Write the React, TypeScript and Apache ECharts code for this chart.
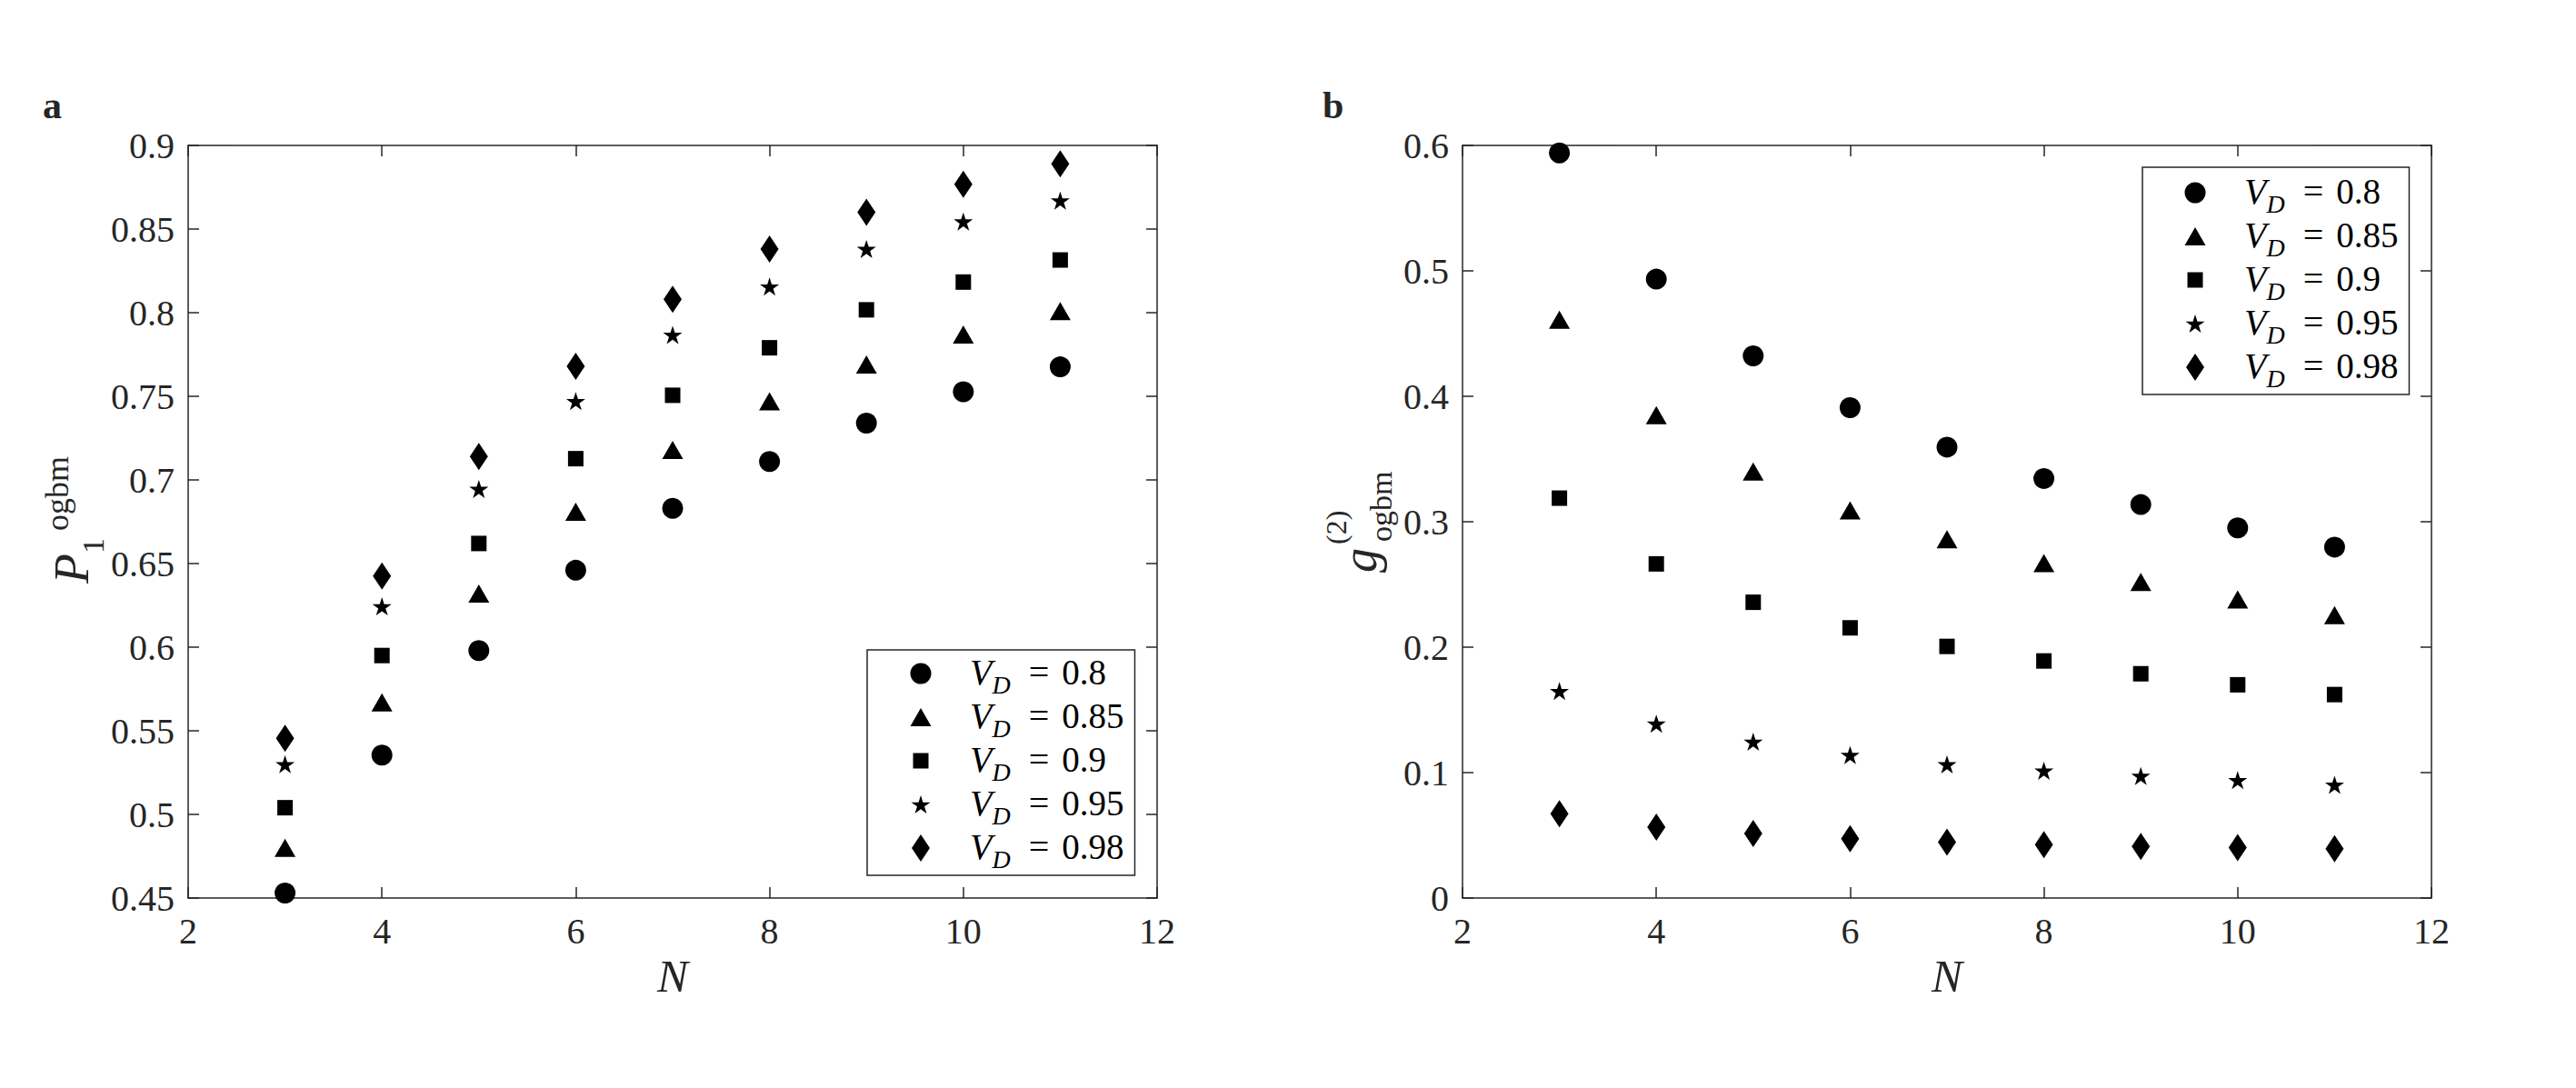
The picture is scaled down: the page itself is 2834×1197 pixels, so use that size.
import React, { useEffect, useRef } from 'react';
import * as echarts from 'echarts';

// ---------- data ----------
const nValues = [3, 4, 5, 6, 7, 8, 9, 10, 11];
const vdLabels = ['0.8', '0.85', '0.9', '0.95', '0.98'];
const seriesNames = vdLabels.map((v) => 'VD=' + v);

// panel a: P_1^ogbm
const pVd080 = [0.453, 0.5355, 0.598, 0.646, 0.683, 0.711, 0.734, 0.7527, 0.7676];
const pVd085 = [0.48, 0.567, 0.632, 0.681, 0.718, 0.747, 0.769, 0.787, 0.801];
const pVd090 = [0.504, 0.595, 0.662, 0.7127, 0.7506, 0.779, 0.8017, 0.8183, 0.8315];
const pVd095 = [0.53, 0.6244, 0.6946, 0.7471, 0.7867, 0.8156, 0.8381, 0.8545, 0.867];
const pVd098 = [0.5455, 0.6425, 0.714, 0.768, 0.808, 0.838, 0.86, 0.8767, 0.889];

// panel b: g^(2)_ogbm
const gVd080 = [0.594, 0.4934, 0.4323, 0.391, 0.3595, 0.3345, 0.3137, 0.2951, 0.2798];
const gVd085 = [0.461, 0.385, 0.34, 0.309, 0.286, 0.267, 0.252, 0.238, 0.2256];
const gVd090 = [0.3188, 0.2664, 0.2358, 0.2154, 0.2006, 0.189, 0.1788, 0.17, 0.1622];
const gVd095 = [0.165, 0.139, 0.1246, 0.114, 0.1066, 0.1015, 0.0973, 0.094, 0.0903];
const gVd098 = [0.0672, 0.0565, 0.0514, 0.0473, 0.0445, 0.0426, 0.0412, 0.0403, 0.0394];

const xTicks = [2, 4, 6, 8, 10, 12];
const yTicksA = [0.45, 0.5, 0.55, 0.6, 0.65, 0.7, 0.75, 0.8, 0.85, 0.9];
const yTicksB = [0, 0.1, 0.2, 0.3, 0.4, 0.5, 0.6];

const panelA = [pVd080, pVd085, pVd090, pVd095, pVd098];
const panelB = [gVd080, gVd085, gVd090, gVd095, gVd098];

// ---------- styling ----------
const FONT = 'Liberation Serif';
const AX = '#262626';
const STAR =
  'path://M50 0L61.23 34.55L97.55 34.55L68.17 55.9L79.39 90.45L50 69.1L20.61 90.45L31.83 55.9L2.45 34.55L38.77 34.55Z';
const markerSymbols = ['circle', 'triangle', 'rect', STAR, 'diamond'];
const markerSizes: any[] = [23, [23, 20], 17, [21, 20], [20, 30]];

// legend icons in a 98x30 frame, marker centred at (49,15)
const FRAME = 'M0 0Z M98 30Z ';
function starIcon(cx: number, cy: number, w: number, h: number) {
  const pts = [
    [50, 0], [61.23, 34.55], [97.55, 34.55], [68.17, 55.9], [79.39, 90.45],
    [50, 69.1], [20.61, 90.45], [31.83, 55.9], [2.45, 34.55], [38.77, 34.55],
  ];
  const sx = w / 95.1, sy = h / 90.45;
  return pts
    .map((p, i) => (i === 0 ? 'M' : 'L') + (cx + (p[0] - 50) * sx).toFixed(2) + ' ' + (cy - h / 2 + p[1] * sy).toFixed(2))
    .join(' ') + ' Z';
}
const legendIcons = [
  'path://' + FRAME + 'M37.5 15 A11.5 11.5 0 1 0 60.5 15 A11.5 11.5 0 1 0 37.5 15 Z',
  'path://' + FRAME + 'M49 5 L60.5 25 L37.5 25 Z',
  'path://' + FRAME + 'M40.5 6.5 L57.5 6.5 L57.5 23.5 L40.5 23.5 Z',
  'path://' + FRAME + starIcon(49, 15, 21, 20),
  'path://' + FRAME + 'M49 0 L59 15 L49 30 L39 15 Z',
];

const tickFmt = (v: number) => String(+v.toFixed(2));

function xAxes(grid: number) {
  const common = {
    type: 'value',
    gridIndex: grid,
    min: xTicks[0],
    max: xTicks[xTicks.length - 1],
    interval: 2,
    axisLine: { show: true, onZero: false, lineStyle: { color: AX, width: 1.5 } },
    axisTick: { show: true, inside: true, length: 12, lineStyle: { color: AX, width: 1.5 } },
    splitLine: { show: false },
  };
  return [
    {
      ...common,
      position: 'bottom',
      name: 'N',
      nameLocation: 'middle',
      nameGap: 60,
      nameTextStyle: { fontFamily: FONT, fontSize: 51, fontStyle: 'italic', color: AX },
      axisLabel: { color: AX, fontFamily: FONT, fontSize: 40, margin: 16, formatter: tickFmt },
    },
    { ...common, position: 'top', axisLabel: { show: false } },
  ];
}

function yAxes(grid: number, ticks: number[], interval: number) {
  const common = {
    type: 'value',
    gridIndex: grid,
    min: ticks[0],
    max: ticks[ticks.length - 1],
    interval,
    axisLine: { show: true, onZero: false, lineStyle: { color: AX, width: 1.5 } },
    axisTick: { show: true, inside: true, length: 12, lineStyle: { color: AX, width: 1.5 } },
    splitLine: { show: false },
  };
  return [
    {
      ...common,
      position: 'left',
      axisLabel: { color: AX, fontFamily: FONT, fontSize: 40, margin: 15, formatter: tickFmt },
    },
    { ...common, position: 'right', axisLabel: { show: false } },
  ];
}

const legendRich = {
  v: { fontFamily: FONT, fontSize: 40, fontStyle: 'italic', color: '#000', height: 40, padding: [2, 0, 0, 0], verticalAlign: 'top' },
  d: { fontFamily: FONT, fontSize: 28, fontStyle: 'italic', color: '#000', height: 24, padding: [24, 0, 0, 0], verticalAlign: 'top' },
  e: { fontFamily: FONT, fontSize: 40, color: '#000', height: 40, padding: [2, 14, 0, 20], verticalAlign: 'top' },
  n: { fontFamily: FONT, fontSize: 39, color: '#000', height: 40, padding: [2, 0, 0, 0], verticalAlign: 'top' },
};

function makeLegend(left: number, top: number, padding: number[]) {
  return {
    orient: 'vertical',
    left,
    top,
    padding,
    itemGap: 0,
    itemWidth: 98,
    itemHeight: 30,
    borderColor: AX,
    borderWidth: 1.5,
    backgroundColor: '#fff',
    selectedMode: false,
    data: seriesNames.map((n, i) => ({ name: n, icon: legendIcons[i] })),
    formatter: (name: string) => {
      const i = seriesNames.indexOf(name);
      return '{v|V}{d|D}{e|=}{n|' + vdLabels[i] + '}';
    },
    textStyle: { fontFamily: FONT, rich: legendRich },
  };
}

function txt(x: number, y: number, text: string, size: number, style = 'normal', weight = 'normal') {
  return {
    type: 'text',
    x,
    y,
    style: {
      text,
      fontFamily: FONT,
      fontSize: size,
      fontStyle: style,
      fontWeight: weight,
      fill: AX,
      align: 'left',
      verticalAlign: 'middle',
    },
  };
}

export default function App() {
  const ref = useRef<HTMLDivElement>(null);
  useEffect(() => {
    if (!ref.current) return;
    const chart = echarts.init(ref.current, undefined, { renderer: 'svg' });
    const series: any[] = [];
    [panelA, panelB].forEach((panel, p) => {
      panel.forEach((vals, i) => {
        series.push({
          type: 'scatter',
          name: seriesNames[i],
          xAxisIndex: p * 2,
          yAxisIndex: p * 2,
          symbol: markerSymbols[i],
          symbolSize: markerSizes[i],
          itemStyle: { color: '#000', opacity: 1 },
          emphasis: { disabled: true },
          data: nValues.map((n, k) => [n, vals[k]]),
        });
      });
    });
    chart.setOption({
      animation: false,
      backgroundColor: '#fff',
      textStyle: { fontFamily: FONT },
      grid: [
        { left: 207, top: 160, width: 1066, height: 828 },
        { left: 1609, top: 160, width: 1066, height: 828 },
      ],
      xAxis: [...xAxes(0), ...xAxes(1)],
      yAxis: [...yAxes(0, yTicksA, 0.05), ...yAxes(1, yTicksB, 0.1)],
      legend: [makeLegend(954, 715, [4, 12, 4, 10]), makeLegend(2357, 184, [6, 12, 4, 9])],
      series,
      graphic: [
        txt(47, 116, 'a', 42, 'normal', 'bold'),
        txt(1455, 116, 'b', 42, 'normal', 'bold'),
        {
          type: 'group',
          x: 96,
          y: 642,
          rotation: Math.PI / 2,
          children: [
            txt(0, -17, 'P', 54, 'italic'),
            txt(33, 6, '1', 34),
            txt(58, -33, 'ogbm', 36),
          ],
        },
        {
          type: 'group',
          x: 1513,
          y: 630,
          rotation: Math.PI / 2,
          children: [
            txt(0, -17, 'g', 54, 'italic'),
            txt(31, -43, '(2)', 32),
            txt(34, 6, 'ogbm', 34),
          ],
        },
      ],
    });
    return () => chart.dispose();
  }, []);
  return (
    <div
      ref={ref}
      style={{ position: 'fixed', left: 0, top: 0, width: 2834, height: 1197, background: '#fff' }}
    />
  );
}
